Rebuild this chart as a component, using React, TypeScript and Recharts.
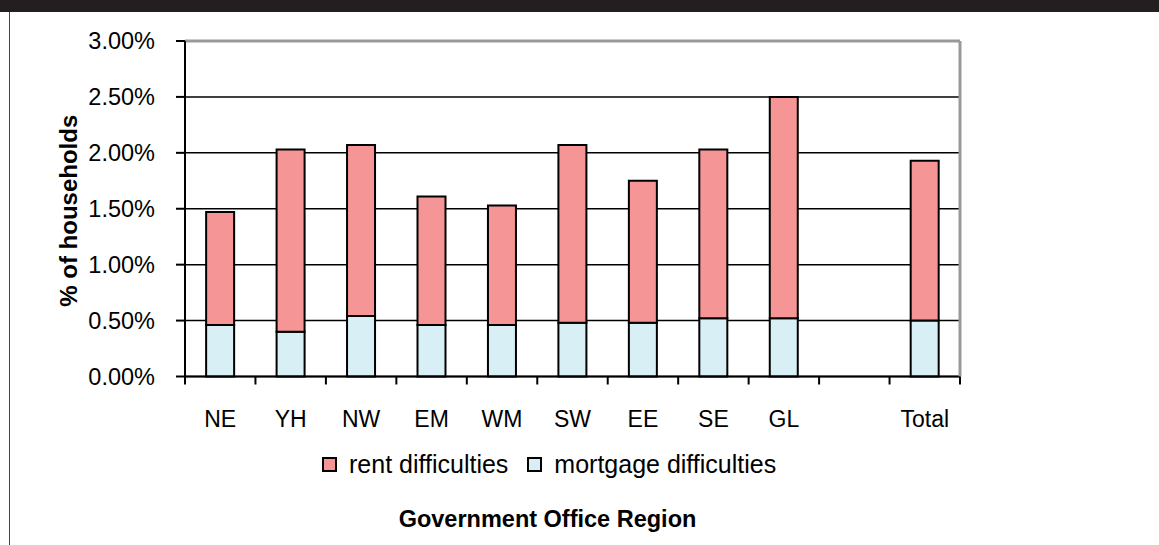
import React from "react";
import { BarChart, Bar, XAxis, YAxis, CartesianGrid, Legend, ReferenceLine } from "recharts";

const regions = ["NE", "YH", "NW", "EM", "WM", "SW", "EE", "SE", "GL", "", "Total"];
const mortgageDifficulties = [0.46, 0.4, 0.54, 0.46, 0.46, 0.48, 0.48, 0.52, 0.52, null, 0.5];
const rentDifficulties = [1.01, 1.63, 1.53, 1.15, 1.07, 1.59, 1.27, 1.51, 1.98, null, 1.43];
const yTicks = [0, 0.5, 1, 1.5, 2, 2.5, 3];

const data = regions.map((name, i) => ({
  name,
  mortgage: mortgageDifficulties[i],
  rent: rentDifficulties[i],
}));

const FONT = "'Liberation Sans', Arial, sans-serif";

// category label in the middle, tick marks on the band edges
function RegionTick(props: any) {
  const { x, y, payload, index, visibleTicksCount, width } = props;
  const half =
    typeof payload.offset === "number" && payload.offset > 0
      ? payload.offset
      : width / visibleTicksCount / 2;
  return (
    <g>
      <line x1={x - half} x2={x - half} y1={y} y2={y + 8} stroke="#000" strokeWidth={2} />
      {index === visibleTicksCount - 1 && (
        <line x1={x + half} x2={x + half} y1={y} y2={y + 8} stroke="#000" strokeWidth={2} />
      )}
      <text x={x} y={y + 50} textAnchor="middle" fill="#000" fontSize={23} fontFamily={FONT}>
        {payload.value}
      </text>
    </g>
  );
}

function LegendContent(props: any) {
  const items = [...(props.payload || [])].reverse();
  return (
    <div style={{ display: "flex", alignItems: "center", fontFamily: FONT, fontSize: 25, lineHeight: "30px" }}>
      {items.map((it: any, i: number) => (
        <div key={i} style={{ display: "flex", alignItems: "center", marginRight: 19 }}>
          <span
            style={{
              display: "inline-block",
              width: 11,
              height: 11,
              border: "2px solid #000",
              background: it.color,
              marginRight: 12,
            }}
          />
          <span style={{ color: "#000" }}>{it.value}</span>
        </div>
      ))}
    </div>
  );
}

export default function App() {
  return (
    <div style={{ position: "fixed", left: 0, top: 0, width: 1159, height: 545, background: "#fff" }}>
      <div style={{ position: "absolute", left: 0, top: 0, width: 1159, height: 12, background: "#231f20" }} />
      <div style={{ position: "absolute", left: 9, top: 12, width: 1, height: 533, background: "#444" }} />
      <div style={{ position: "absolute", left: 0, top: 0 }}>
        <BarChart
          width={1159}
          height={545}
          data={data}
          margin={{ top: 41, right: 196, bottom: 0, left: 0 }}
          barCategoryGap="30%"
        >
          <CartesianGrid vertical={false} stroke="#000" strokeWidth={1.5} />
          <ReferenceLine y={3} stroke="#999" strokeWidth={3} />
          <XAxis
            dataKey="name"
            height={168.5}
            interval={0}
            tickSize={0}
            tickMargin={0}
            tickLine={false}
            axisLine={{ stroke: "#000", strokeWidth: 2 }}
            tick={<RegionTick />}
            label={{
              value: "Government Office Region",
              position: "insideBottom",
              offset: 18,
              dx: -25,
              fill: "#000",
              fontSize: 23.5,
              fontWeight: "bold",
              fontFamily: FONT,
            }}
          />
          <YAxis
            width={185}
            domain={[0, 3]}
            ticks={yTicks}
            interval={0}
            tickSize={9}
            tickMargin={21}
            tickFormatter={(v) => `${v.toFixed(2)}%`}
            tick={{ fill: "#000", fontSize: 23.5, fontFamily: FONT }}
            tickLine={{ stroke: "#000", strokeWidth: 2 }}
            axisLine={{ stroke: "#000", strokeWidth: 2 }}
            label={(p: any) => {
              const vb = p.viewBox;
              const cx = vb.x + 68;
              const cy = vb.y + vb.height / 2 + 2;
              return (
                <text
                  x={cx}
                  y={cy}
                  transform={`rotate(-90 ${cx} ${cy})`}
                  textAnchor="middle"
                  dominantBaseline="central"
                  fontFamily={FONT}
                  fontSize={24}
                  fontWeight="bold"
                  fill="#000"
                >
                  % of households
                </text>
              );
            }}
          />
          <YAxis
            yAxisId="r"
            orientation="right"
            width={3}
            domain={[0, 3]}
            ticks={yTicks}
            tick={false}
            tickLine={false}
            axisLine={{ stroke: "#999", strokeWidth: 3 }}
          />
          <Legend
            layout="horizontal"
            verticalAlign="middle"
            align="center"
            content={<LegendContent />}
            wrapperStyle={{ top: 449, left: 322, width: "auto", height: 30 }}
          />
          <Bar
            dataKey="mortgage"
            name="mortgage difficulties"
            stackId="a"
            fill="#d9eff6"
            stroke="#000"
            strokeWidth={2}
            isAnimationActive={false}
          />
          <Bar
            dataKey="rent"
            name="rent difficulties"
            stackId="a"
            fill="#f59595"
            stroke="#000"
            strokeWidth={2}
            isAnimationActive={false}
          />
        </BarChart>
      </div>
    </div>
  );
}
